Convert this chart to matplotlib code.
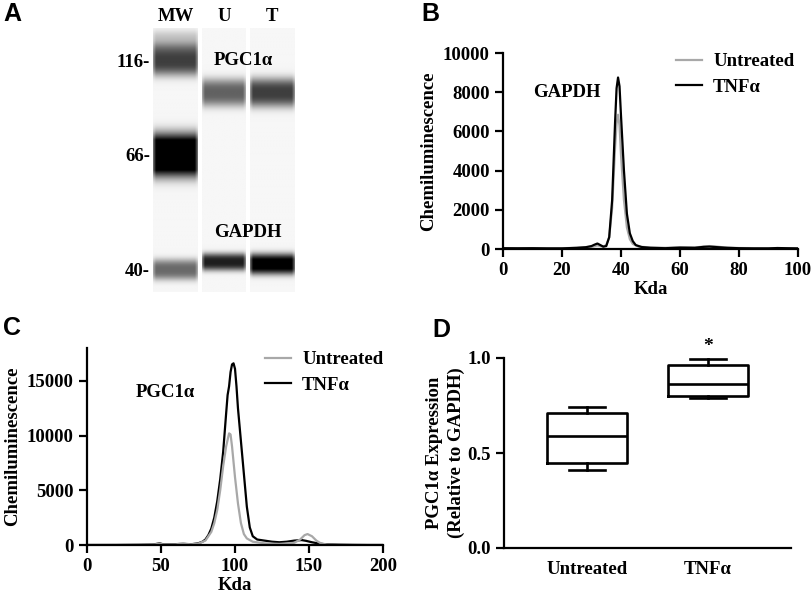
# -*- coding: utf-8 -*-
"""
Figura compuesta: (A) vista de gel simulada, (B) electroferograma GAPDH,
(C) electroferograma PGC1a, (D) boxplot de expresion relativa.
"""
import numpy as np
import matplotlib
matplotlib.use("Agg")
import matplotlib.pyplot as plt
from matplotlib.lines import Line2D

W, H = 812, 603
SERIF = "Liberation Serif"
SANS = "Liberation Sans"
GREY = "#a8a8a8"
FS = 13.5

# --- A: bandas del gel (Rf relativo, ancho, intensidad) ---
MW_BANDS = [(0.046, 0.030, 0.20), (0.122, 0.045, 0.72), (0.481, 0.063, 1.40), (0.916, 0.031, 0.55)]
U_BANDS = [(0.244, 0.041, 0.58), (0.887, 0.026, 0.85)]
T_BANDS = [(0.244, 0.043, 0.72), (0.895, 0.031, 1.05)]
LADDER_RF = [0.122, 0.481, 0.916]
LADDER_LABELS = ["116-", "66-", "40-"]

# --- B: GAPDH ---
b_untreated_x = [0, 10, 20, 25, 30, 32, 34, 35, 36, 37, 38, 38.5, 39, 39.5, 40, 41, 42, 43, 44, 46,
                 50, 55, 60, 65, 68, 70, 72, 75, 80, 90, 100]
b_untreated_y = [40, 40, 40, 60, 110, 180, 120, 200, 600, 2100, 5200, 6400, 6850, 6300, 4800, 2500,
                 1100, 500, 260, 120, 80, 60, 90, 80, 120, 150, 130, 80, 50, 40, 30]
b_tnf_x = [0, 5, 10, 15, 20, 25, 28, 30, 31, 32, 33, 34, 35, 36, 37, 38, 38.5, 39, 39.5, 40, 41, 42,
           43, 44, 45, 47, 50, 55, 60, 65, 68, 70, 73, 76, 80, 85, 90, 93, 96, 100]
b_tnf_y = [40, 35, 40, 30, 30, 60, 90, 150, 220, 280, 200, 120, 150, 600, 2500, 6500, 8200, 8750,
           8300, 6800, 4000, 1800, 800, 400, 200, 100, 60, 40, 70, 60, 110, 120, 90, 60, 40, 30, 30,
           50, 40, 30]

# --- C: PGC1a ---
c_untreated_x = [0, 35, 45, 49, 52, 60, 65, 70, 75, 80, 84, 86, 88, 90, 92, 94, 96, 97, 98, 99, 100,
                 102, 104, 106, 108, 112, 120, 130, 140, 144, 147, 149, 152, 155, 158, 162, 170, 190, 200]
c_untreated_y = [0, 30, 40, 120, 40, 60, 150, 60, 120, 400, 1200, 2000, 3200, 5000, 7200, 9000, 10200,
                 10100, 9000, 7600, 6200, 3800, 2000, 1000, 600, 300, 150, 100, 200, 500, 900, 1000,
                 800, 400, 150, 50, 10, 0, 0]
c_tnf_x = [0, 20, 35, 45, 49, 52, 60, 65, 70, 75, 78, 80, 82, 84, 86, 88, 90, 92, 94, 95, 96, 97, 98,
           99, 100, 101, 102, 104, 106, 108, 110, 112, 115, 120, 125, 130, 135, 140, 145, 148, 152,
           156, 160, 170, 180, 190, 200]
c_tnf_y = [0, 0, 20, 50, 150, 50, 80, 100, 60, 150, 300, 500, 900, 1500, 2500, 4000, 6000, 8500,
           12000, 13700, 14500, 15800, 16500, 16600, 16100, 14500, 12500, 9500, 6500, 3500, 1600,
           800, 500, 400, 300, 250, 300, 400, 450, 380, 250, 150, 80, 30, 10, 0, 0]

# --- D: resumen del boxplot ---
groups = ["Untreated", "TNF\u03b1"]
whis_lo = [0.41, 0.788]
q1 = [0.449, 0.798]
median = [0.59, 0.862]
q3 = [0.709, 0.963]
whis_hi = [0.742, 0.993]


def px_axes(fig, x0, y0, x1, y1):
    return fig.add_axes([x0 / W, 1 - y1 / H, (x1 - x0) / W, (y1 - y0) / H])


def lane_image(bands, rows=400, cols=60):
    rf = np.linspace(0, 1, rows)
    bg = 0.035
    dark = np.full(rows, bg)
    for c, s, p in bands:
        dark = dark + p * np.exp(-0.5 * np.abs((rf - c) / s) ** 3)
    dark = np.clip(dark, 0, 1)
    u = np.linspace(0, 1, cols)
    taper = 0.55 + 0.45 * np.clip(np.minimum(u, 1 - u) / 0.06, 0, 1)
    return bg + (dark[:, None] - bg) * taper[None, :]


def style(ax):
    for s in ("top", "right"):
        ax.spines[s].set_visible(False)
    for s in ("left", "bottom"):
        ax.spines[s].set_linewidth(1.6)
    ax.tick_params(direction="out", length=6, width=1.6, labelsize=FS)
    for lab in ax.get_xticklabels() + ax.get_yticklabels():
        lab.set_fontfamily(SERIF)
        lab.set_fontweight("bold")


def panel_letter(fig, x, y, s):
    fig.text(x / W, 1 - y / H, s, fontsize=18, fontweight="bold", family=SANS,
             ha="center", va="center")


fig = plt.figure(figsize=(W / 100, H / 100), dpi=100)
plt.rcParams["font.family"] = [SERIF, "DejaVu Serif"]

# ---------------- A ----------------
axA = px_axes(fig, 150, 28, 298, 292)
for bands, (x0, x1) in zip([MW_BANDS, U_BANDS, T_BANDS], [(3, 48), (52, 96), (100, 145)]):
    axA.imshow(lane_image(bands), extent=[x0, x1, 1, 0], cmap="gray_r", vmin=0, vmax=1,
               aspect="auto", interpolation="bilinear")
axA.set_xlim(0, 148)
axA.set_ylim(1, 0)
for s in axA.spines.values():
    s.set_visible(False)
axA.set_xticks([])
axA.set_yticks(LADDER_RF, LADDER_LABELS)
axA.tick_params(axis="y", length=0, pad=0)
for lab in axA.get_yticklabels():
    lab.set_fontsize(FS); lab.set_fontweight("bold")
for xc, s in zip([25.5, 74, 122.5], ["MW", "U", "T"]):
    axA.text(xc, -0.042, s, ha="center", va="center", fontsize=FS, fontweight="bold", clip_on=False)
axA.text(93, 0.122, "PGC1\u03b1", ha="center", va="center", fontsize=FS, fontweight="bold")
axA.text(98, 0.775, "GAPDH", ha="center", va="center", fontsize=FS, fontweight="bold")
panel_letter(fig, 12, 14, "A")

# ---------------- B ----------------
axB = px_axes(fig, 503, 53, 798, 249)
axB.plot(b_untreated_x, b_untreated_y, color=GREY, lw=1.6, label="Untreated")
axB.plot(b_tnf_x, b_tnf_y, color="black", lw=1.6, label="TNF\u03b1")
axB.set_xlim(0, 100); axB.set_ylim(0, 10000)
axB.set_xticks(np.arange(0, 101, 20)); axB.set_yticks(np.arange(0, 10001, 2000))
style(axB)
axB.set_xlabel("Kda", fontsize=FS, fontweight="bold", labelpad=1)
axB.set_ylabel("Chemiluminescence", fontsize=FS, fontweight="bold", labelpad=4)
axB.text(0.217, 0.796, "GAPDH", transform=axB.transAxes, ha="center", va="center",
         fontsize=FS, fontweight="bold")
axB.legend(frameon=False, loc="upper left", bbox_to_anchor=(0.585, 1.0), borderaxespad=0,
           borderpad=0, handlelength=1.4, handletextpad=0.6, labelspacing=0.45,
           prop={"family": SERIF, "weight": "bold", "size": FS})
panel_letter(fig, 430, 14, "B")

# ---------------- C ----------------
axC = px_axes(fig, 87, 348, 383, 545)
axC.plot(c_tnf_x, c_tnf_y, color="black", lw=1.6, label="TNF\u03b1")
axC.plot(c_untreated_x, c_untreated_y, color=GREY, lw=1.6, label="Untreated")
axC.set_xlim(0, 200); axC.set_ylim(0, 18000)
axC.set_xticks(np.arange(0, 201, 50)); axC.set_yticks(np.arange(0, 15001, 5000))
style(axC)
axC.set_xlabel("Kda", fontsize=FS, fontweight="bold", labelpad=1)
axC.set_ylabel("Chemiluminescence", fontsize=FS, fontweight="bold", labelpad=4)
axC.text(0.264, 0.772, "PGC1\u03b1", transform=axC.transAxes, ha="center", va="center",
         fontsize=FS, fontweight="bold")
handles = [Line2D([], [], color=GREY, lw=1.6), Line2D([], [], color="black", lw=1.6)]
axC.legend(handles, ["Untreated", "TNF\u03b1"], frameon=False, loc="upper left",
           bbox_to_anchor=(0.6, 0.985), borderaxespad=0, borderpad=0, handlelength=1.4,
           handletextpad=0.6, labelspacing=0.45,
           prop={"family": SERIF, "weight": "bold", "size": FS})
panel_letter(fig, 12, 328, "C")

# ---------------- D ----------------
axD = px_axes(fig, 504, 358, 791, 548)
stats = [dict(label=g, whislo=a, q1=b, med=c, q3=d, whishi=e)
         for g, a, b, c, d, e in zip(groups, whis_lo, q1, median, q3, whis_hi)]
lw = 1.9
axD.bxp(stats, positions=[0, 1], widths=0.66, capwidths=0.3, showfliers=False,
        boxprops=dict(lw=lw, color="black"), medianprops=dict(lw=lw, color="black"),
        whiskerprops=dict(lw=lw, color="black"), capprops=dict(lw=lw, color="black"))
axD.set_xlim(-0.685, 1.685); axD.set_ylim(0, 1.0)
axD.set_yticks([0.0, 0.5, 1.0])
style(axD)
axD.tick_params(axis="x", length=0, pad=9)
axD.set_ylabel("PGC1\u03b1 Expression\n(Relative to GAPDH)", fontsize=13.5, fontweight="bold",
               linespacing=1.35, labelpad=2)
axD.text(1, 1.06, "*", ha="center", va="center", fontsize=14, fontweight="bold", clip_on=False)
panel_letter(fig, 441, 330, "D")

fig.savefig("out.png", dpi=100)
